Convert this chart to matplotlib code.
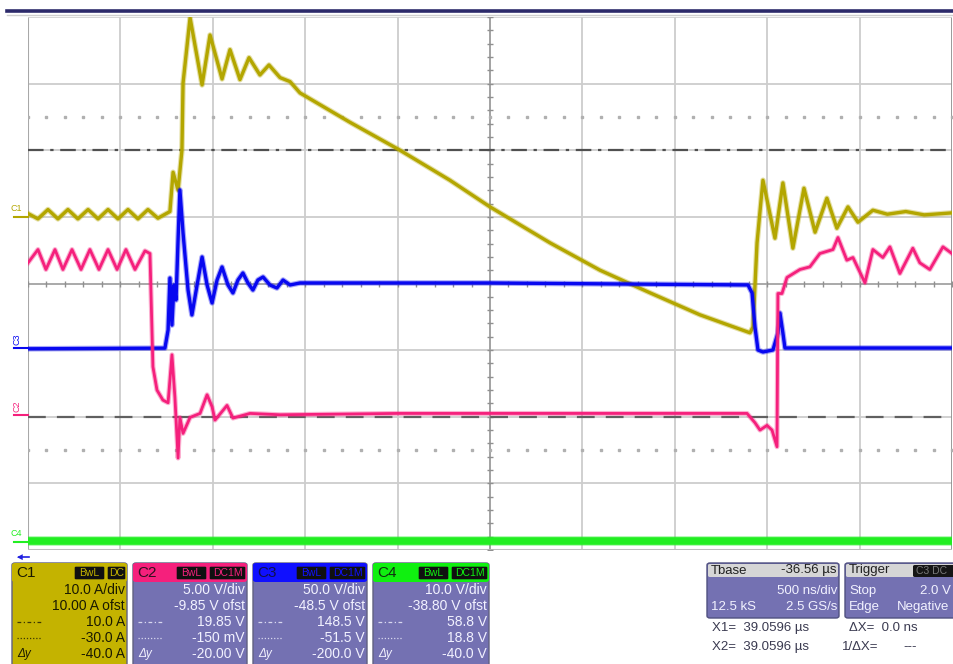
import numpy as np
import matplotlib
matplotlib.use("Agg")
import matplotlib.pyplot as plt
from matplotlib.lines import Line2D
from matplotlib.patches import FancyBboxPatch
from matplotlib.transforms import blended_transform_factory

plt.rcParams['font.family'] = ['Liberation Sans', 'DejaVu Sans']

# --- settings ---
ns_per_div = 500
c1_scale, c1_ofst = 10.0, 10.00     # A/div, A
c2_scale, c2_ofst = 5.0, -9.85      # V/div, V
c3_scale, c3_ofst = 50.0, -48.5
c4_scale, c4_ofst = 10.0, -38.80
cursor1_c1, cursor2_c1 = 10.0, -30.0

# --- traces (time in ns from left edge of screen) ---
c1_t = [0, 54, 108, 162, 216, 270, 325, 379, 433, 487, 541, 595, 649, 703, 768,
        785, 812, 833, 839, 877, 942, 985, 1050, 1093, 1147, 1196, 1255, 1304,
        1364, 1418, 1472, 1564, 1742, 2013, 2283, 2500, 2825, 3095, 3366, 3636,
        3907, 3923, 3945, 3977, 4042, 4085, 4139, 4199, 4259, 4323, 4377, 4437,
        4491, 4572, 4650, 4750, 4850, 5000]
c1_i = [0.5, -0.3, 1.1, -0.3, 1.1, -0.3, 1.1, -0.3, 1.1, -0.3, 1.1, -0.3, 1.1,
        -0.2, 0.8, 6.7, 4.0, 10.0, 20.1, 29.9, 19.8, 27.3, 20.7, 25.1, 20.6, 23.9,
        21.3, 22.8, 20.9, 20.3, 18.6, 17.1, 14.2, 10.0, 5.5, 1.5, -3.9, -8.0,
        -11.4, -14.7, -17.4, -16.5, -3.9, 5.5, -3.2, 5.1, -4.7, 4.3, -2.3, 2.8,
        -1.7, 1.5, -0.8, 1.0, 0.4, 0.8, 0.3, 0.6]

c2_t = [0, 54, 97, 146, 189, 238, 287, 335, 384, 433, 482, 530, 579, 633, 660,
        676, 698, 730, 758, 779, 795, 812, 822, 839, 877, 931, 969, 996, 1012,
        1077, 1109, 1201, 1364, 2000, 3000, 3891, 3934, 3961, 3999, 4026, 4053,
        4058, 4080, 4107, 4177, 4231, 4285, 4356, 4383, 4431, 4464, 4529, 4572,
        4626, 4664, 4718, 4788, 4826, 4880, 4951, 5000]
c2_v = [11.4, 12.4, 10.9, 12.4, 10.9, 12.4, 10.9, 12.4, 10.9, 12.4, 10.9, 12.4,
        10.9, 12.3, 12.1, 3.6, 1.85, 1.1, 0.9, 4.5, 1.3, -3.25, -0.2, -1.4, -0.2,
        0.1, 1.5, 0.6, -0.4, 0.7, -0.25, 0.1, 0.0, 0.1, 0.1, 0.1, -0.6, -1.15,
        -0.8, -1.15, -2.4, 9.1, 9.1, 10.3, 10.9, 11.1, 12.1, 12.4, 13.3, 11.6,
        11.8, 9.9, 12.4, 11.8, 12.6, 10.6, 12.5, 11.4, 10.9, 12.6, 12.1]

c3_t = [0, 741, 758, 768, 779, 790, 801, 812, 822, 839, 866, 887, 915, 942, 969,
        996, 1023, 1050, 1082, 1109, 1136, 1163, 1190, 1217, 1244, 1272, 1309,
        1347, 1380, 1418, 1472, 2500, 3896, 3918, 3934, 3950, 3977, 4031, 4058,
        4069, 4085, 4096, 5000]
c3_v = [-0.5, 0.0, 13.6, 52.6, 17.3, 47.4, 36.1, 81.2, 118.7, 86.4, 43.6, 24.9,
        47.4, 68.4, 47.4, 33.9, 51.1, 60.9, 47.4, 41.4, 51.1, 56.4, 48.9, 43.6,
        51.1, 53.4, 47.4, 45.1, 51.1, 47.4, 48.9, 48.9, 47.4, 41.4, 15.8, -1.4,
        -2.9, -1.4, 11.3, 26.4, 11.3, 0.1, 0.1]

c4_t = [0, 5000]
c4_v = [0.2, 0.2]

# panel text
c1_rows = ["10.0 A/div", "10.00 A ofst", "10.0 A", "-30.0 A", "-40.0 A"]
c2_rows = ["5.00 V/div", "-9.85 V ofst", "19.85 V", "-150 mV", "-20.00 V"]
c3_rows = ["50.0 V/div", "-48.5 V ofst", "148.5 V", "-51.5 V", "-200.0 V"]
c4_rows = ["10.0 V/div", "-38.80 V ofst", "58.8 V", "18.8 V", "-40.0 V"]

OLIVE = '#b3a600'
PINK = '#f5207c'
BLUE = '#0808f0'
GREEN = '#22ee22'
PANEL = '#7471b2'

W, H = 954, 664
def fx(x): return x / W
def fy(y): return 1 - y / H

fig = plt.figure(figsize=(9.54, 6.64), dpi=100)
ax = fig.add_axes([fx(28), fy(550), (952 - 28) / W, (550 - 17) / H])
ax.set_xlim(0, 10)
ax.set_ylim(-4, 4)
ax.axis('off')

# graticule
for k in range(1, 10):
    ax.axvline(k, color='#cdcdcd', lw=1.3, zorder=0)
for k in range(-3, 4):
    ax.axhline(k, color='#cdcdcd', lw=1.3, zorder=0)
ax.axvline(0, color='#a8a8a8', lw=1.5)
ax.axvline(10, color='#909090', lw=2)
ax.axhline(-4, color='#bdbdbd', lw=1.5)
ax.axhline(4, color='#d0d0d0', lw=1.2)
ax.axvline(5, color='#a0a0a0', lw=1.3, zorder=0)
ax.axhline(0, color='#a8a8a8', lw=1.3, zorder=0)
minor = np.arange(-4, 4.01, 0.2)
ax.plot(np.full(minor.size, 5), minor, ls='none', marker='_', ms=5, color='#909090', mew=1)
minor_x = np.arange(0, 10.01, 0.2)
ax.plot(minor_x, np.zeros(minor_x.size), ls='none', marker='|', ms=4, color='#909090', mew=1)
for yy in (2.5, -2.5):
    ax.plot(minor_x, np.full(minor_x.size, yy), ls='none', marker='s', ms=1.6,
            color='#b0b0b0')

# cursors
ax.axhline((cursor1_c1 + c1_ofst) / c1_scale, color='#505050', lw=1.6,
           dashes=(7, 3, 1.5, 3))
ax.axhline((cursor2_c1 + c1_ofst) / c1_scale, color='#606060', lw=1.6,
           dashes=(8, 5))

def div(v, scale, ofst):
    return (np.asarray(v, float) + ofst) / scale

def tdiv(t):
    return np.asarray(t, float) / ns_per_div

def trace(t, v, scale, ofst, col, lw):
    x, y = tdiv(t), div(v, scale, ofst)
    # faint wider stroke gives the noisy band look of the scope trace
    ax.plot(x, y, color=col, lw=lw + 1.6, alpha=0.35, solid_joinstyle='round')
    ax.plot(x, y, color=col, lw=lw, solid_joinstyle='round')

trace(c4_t, c4_v, c4_scale, c4_ofst, GREEN, 5.5)
trace(c1_t, c1_i, c1_scale, c1_ofst, OLIVE, 2.4)
trace(c3_t, c3_v, c3_scale, c3_ofst, BLUE, 2.4)
trace(c2_t, c2_v, c2_scale, c2_ofst, PINK, 2.0)

# ground markers at the left
tr = blended_transform_factory(fig.transFigure, ax.transData)
marks = [("C1", c1_scale, c1_ofst, OLIVE, 0),
         ("C2", c2_scale, c2_ofst, PINK, 90),
         ("C3", c3_scale, c3_ofst, BLUE, 90),
         ("C4", c4_scale, c4_ofst, GREEN, 0)]
for name, sc, of, col, rot in marks:
    g = of / sc
    fig.add_artist(Line2D([fx(14), fx(28)], [g, g], transform=tr, color=col, lw=1.5))
    if rot == 0:
        fig.text(fx(11), g + 0.06, name, transform=tr, color=col, fontsize=6.5,
                 ha='left', va='bottom')
    else:
        fig.text(fx(12), g + 0.04, name, transform=tr, color=col, fontsize=6.5,
                 ha='left', va='bottom', rotation=90)

# trigger position arrow
fig.add_artist(Line2D([fx(19), fx(29)], [fy(557), fy(557)], color='#2020e0', lw=1.2))
fig.text(fx(24), fy(557), "◄", color='#2020e0', fontsize=7, ha='right', va='center')

# top bar
fig.add_artist(Line2D([fx(7), 1], [fy(11), fy(11)], color='#2c2a6a', lw=2.6))
fig.add_artist(Line2D([fx(7), 1], [fy(15), fy(15)], color='#cfcfcf', lw=1))

# channel panels
def box(x0, y0, x1, y1, fc, ec='none', r=3, z=1):
    p = FancyBboxPatch((fx(x0), fy(y1)), fx(x1) - fx(x0), fy(y0) - fy(y1),
                       boxstyle="round,pad=0,rounding_size=%f" % (r / W),
                       fc=fc, ec=ec, lw=1, transform=fig.transFigure, zorder=z)
    fig.add_artist(p)

def channel_panel(x0, x1, name, col, rows, tags, body, txt, head_txt):
    box(x0, 563, x1, 680, body, ec='#606080')
    box(x0, 563, x1, 582, col, z=2)
    fig.text(fx(x0 + 4), fy(573), name, color=head_txt, fontsize=11, va='center', zorder=5)
    xr = x1 - 1
    for tag, w in reversed(tags):
        box(xr - w, 566, xr, 580, '#101010', ec=col, r=2, z=3)
        fig.text(fx(xr - w / 2), fy(573), tag, color=col, fontsize=7.5,
                 ha='center', va='center', zorder=5)
        xr -= w + 2
    ys = [590, 606, 622, 638, 654]
    for yy, s in zip(ys, rows):
        fig.text(fx(x1 - 2), fy(yy), s, color=txt, fontsize=10, ha='right',
                 va='center', zorder=5)
    fig.add_artist(Line2D([fx(x0 + 5), fx(x0 + 30)], [fy(622), fy(622)], color=txt,
                          lw=0.9, dashes=(3, 2, 1, 2), zorder=5, alpha=0.8))
    fig.add_artist(Line2D([fx(x0 + 5), fx(x0 + 30)], [fy(638), fy(638)], color=txt,
                          lw=0.9, dashes=(1, 1.5), zorder=5, alpha=0.8))
    fig.text(fx(x0 + 5), fy(654), "Δy", color=txt, fontsize=8.5, va='center',
             style='italic', zorder=5)

channel_panel(12, 127, "C1", '#c4b300', c1_rows, [("BwL", 31), ("DC", 19)],
              '#c4b300', '#1a1a00', '#1a1a00')
channel_panel(133, 247, "C2", PINK, c2_rows, [("BwL", 31), ("DC1M", 37)],
              PANEL, '#f2f2ff', '#301020')
channel_panel(253, 367, "C3", '#1010ff', c3_rows, [("BwL", 31), ("DC1M", 37)],
              PANEL, '#f2f2ff', '#10104a')
channel_panel(373, 489, "C4", '#10f010', c4_rows, [("BwL", 31), ("DC1M", 37)],
              PANEL, '#f2f2ff', '#103010')

# timebase panel
box(707, 563, 839, 618, PANEL, ec='#505080')
box(708, 564, 838, 577, '#d6d6d6', r=2, z=2)
fig.text(fx(711), fy(570.5), "Tbase", color='#202020', fontsize=9.5, va='center', zorder=5)
fig.text(fx(837), fy(570.5), "-36.56 µs", color='#202020', fontsize=9.5, va='center',
         ha='right', zorder=5)
fig.text(fx(837), fy(591), "500 ns/div", color='#f2f2ff', fontsize=9.5, va='center',
         ha='right', zorder=5)
fig.text(fx(711), fy(607), "12.5 kS", color='#f2f2ff', fontsize=9.5, va='center', zorder=5)
fig.text(fx(837), fy(607), "2.5 GS/s", color='#f2f2ff', fontsize=9.5, va='center',
         ha='right', zorder=5)

# trigger panel
box(845, 563, 975, 618, PANEL, ec='#505080')
box(846, 564, 974, 577, '#d6d6d6', r=2, z=2)
fig.text(fx(849), fy(570.5), "Trigger", color='#202020', fontsize=9.5, va='center', zorder=5)
box(913, 565, 960, 577, '#151515', r=2, z=3)
fig.text(fx(916), fy(571), "C3 DC", color='#7a7a7a', fontsize=7.5, va='center', zorder=5)
fig.text(fx(849), fy(591), "Stop", color='#f2f2ff', fontsize=9.5, va='center', zorder=5)
fig.text(fx(951), fy(591), "2.0 V", color='#f2f2ff', fontsize=9.5, va='center',
         ha='right', zorder=5)
fig.text(fx(849), fy(607), "Edge", color='#f2f2ff', fontsize=9.5, va='center', zorder=5)
fig.text(fx(897), fy(607), "Negative", color='#f2f2ff', fontsize=9.5, va='center', zorder=5)

# cursor readout
rc = '#3a3a50'
fig.text(fx(712), fy(628), "X1=  39.0596 µs", color=rc, fontsize=9.5, va='center')
fig.text(fx(849), fy(628), "ΔX=  0.0 ns", color=rc, fontsize=9.5, va='center')
fig.text(fx(712), fy(647), "X2=  39.0596 µs", color=rc, fontsize=9.5, va='center')
fig.text(fx(842), fy(647), "1/ΔX=", color=rc, fontsize=9.5, va='center')
fig.text(fx(903), fy(647), "---", color=rc, fontsize=9.5, va='center')

fig.savefig("out.png", dpi=100, facecolor='white')
